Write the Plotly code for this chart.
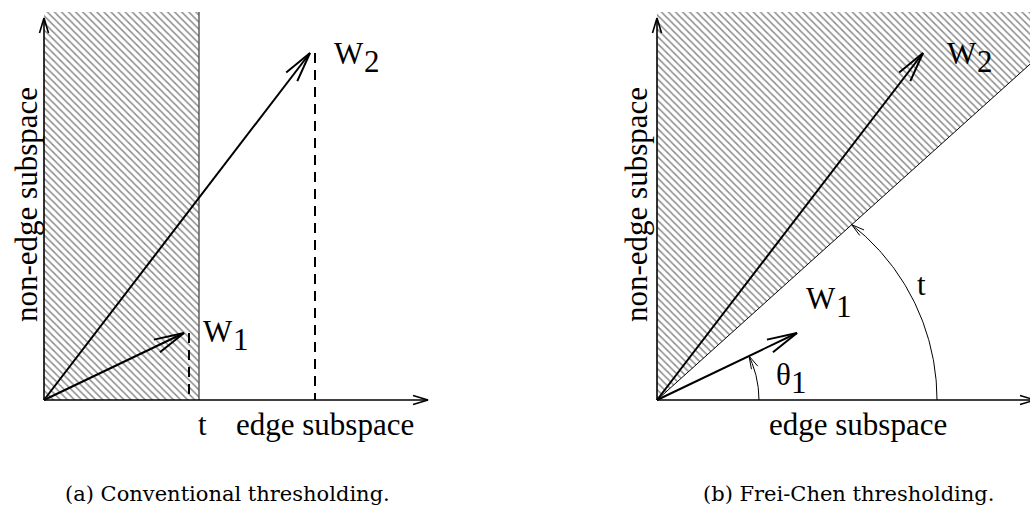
import numpy as np
import plotly.graph_objects as go

# Feature vectors in the (edge, non-edge) plane, shared by both panels
w1 = [140, 67]
w2 = [266, 347]
w_labels = ["1", "2"]
# edge-subspace projections marked by the dashed guides in panel (a)
w_proj = [145, 271]
# thresholds: magnitude along the edge axis (a), angle from the edge axis (b)
t_edge = 155
t_angle_deg = 42

axis_labels = ["edge subspace", "non-edge subspace"]
captions = ["(a) Conventional thresholding.", "(b) Frei-Chen thresholding."]

# ---- geometry of the drawing area (1 data unit == 1 px) ----
W, H = 1030, 508
ORIGIN_PX = [(44, 400), (657, 400)]
Y_TOP = 388            # top of the hatched regions
Y_AXIS_TIP = 382
X_AXIS_TIP = [384, 378]
THETA_R = 102
T_ARC_R = [280, 262]   # t arc radius on the edge axis and on the threshold line

SERIF = "Liberation Serif"
fig = go.Figure()


def axes_of(k):
    return ("x", "y") if k == 0 else ("x2", "y2")


def chevron(tip, direction, length, half):
    d = np.asarray(direction, float)
    d = d / np.hypot(*d)
    n = np.array([-d[1], d[0]])
    tip = np.asarray(tip, float)
    base = tip - length * d
    a, b = base + half * n, base - half * n
    return [a[0], tip[0], b[0], None], [a[1], tip[1], b[1], None]


def add_line(k, xs, ys, width=1.0, color="black", dash="solid"):
    xa, ya = axes_of(k)
    fig.add_trace(go.Scatter(x=xs, y=ys, mode="lines", xaxis=xa, yaxis=ya,
                             line=dict(color=color, width=width, dash=dash),
                             hoverinfo="skip", showlegend=False))


def add_arrow(k, start, tip, width, length, half):
    add_line(k, [start[0], tip[0]], [start[1], tip[1]], width)
    cx, cy = chevron(tip, np.subtract(tip, start), length, half)
    add_line(k, cx, cy, width)


def add_hatch(k, xs, ys):
    xa, ya = axes_of(k)
    fig.add_trace(go.Scatter(x=xs, y=ys, mode="lines", fill="toself", xaxis=xa, yaxis=ya,
                             line=dict(color="rgba(0,0,0,0)", width=0),
                             fillcolor="rgba(0,0,0,0)",
                             fillpattern=dict(shape="\\", size=5, solidity=0.3,
                                              fgcolor="#1a1a1a", bgcolor="rgba(0,0,0,0)"),
                             hoverinfo="skip", showlegend=False))


def add_arc(k, center, r, a0, a1, width=1.0):
    ang = np.linspace(a0, a1, 80)
    xs = center[0] + r * np.cos(ang)
    ys = center[1] + r * np.sin(ang)
    add_line(k, list(xs), list(ys), width)
    tip = (xs[-1], ys[-1])
    tangent = (-np.sin(a1), np.cos(a1))
    cx, cy = chevron(tip, tangent, 13, 3.5)
    add_line(k, cx, cy, width)


def label(k, text, x, y, size=31, angle=0, family=SERIF):
    xa, ya = axes_of(k)
    fig.add_annotation(x=x, y=y, xref=xa, yref=ya, text=text, showarrow=False,
                       textangle=angle, xanchor="center", yanchor="middle",
                       font=dict(family=family, size=size, color="black"))


def label_sub(k, base, sub, x, y, size=31):
    """Base symbol with a full-size, lowered subscript drawn beside it."""
    xa, ya = axes_of(k)
    fig.add_annotation(x=x, y=y, xref=xa, yref=ya, text=base, showarrow=False,
                       xanchor="right", yanchor="middle", borderpad=0, borderwidth=0,
                       font=dict(family=SERIF, size=size, color="black"))
    fig.add_annotation(x=x, y=y - 8, xref=xa, yref=ya, text=sub, showarrow=False,
                       xanchor="left", yanchor="middle", borderpad=0, borderwidth=0,
                       font=dict(family=SERIF, size=size, color="black"))


vectors = [w1, w2]
tan_t = np.tan(np.radians(t_angle_deg))

# ---------------- panel (a): magnitude threshold ----------------
add_hatch(0, [0, t_edge, t_edge, 0, 0], [0, 0, Y_TOP, Y_TOP, 0])
add_line(0, [t_edge, t_edge], [0, Y_TOP], 1.4, "#555555")
for p, v in zip(w_proj, vectors):
    add_line(0, [p, p], [v[1], 0], 2, dash="10px,7px")

# ---------------- panel (b): angular threshold ----------------
x_far = 400
add_hatch(1, [0, 0, x_far, x_far, 0], [0, Y_TOP, Y_TOP, x_far * tan_t, 0])
add_line(1, [0, x_far], [0, x_far * tan_t], 1.0)

# theta_1 arc, centred on the origin
theta1 = np.arctan2(w1[1], w1[0])
add_arc(1, (0, 0), THETA_R, 0, theta1)
# t arc: circle centred on the edge axis through both end points
ex = T_ARC_R[1] * np.cos(np.radians(t_angle_deg))
ey = T_ARC_R[1] * np.sin(np.radians(t_angle_deg))
c = (T_ARC_R[0] ** 2 - ex ** 2 - ey ** 2) / (2 * (T_ARC_R[0] - ex))
r_t = T_ARC_R[0] - c
add_arc(1, (c, 0), r_t, 0, np.arctan2(ey, ex - c))

# ---------------- shared: axes and vectors ----------------
for k in range(2):
    add_arrow(k, (0, 0), (X_AXIS_TIP[k], 0), 1.6, 15, 4.5)
    add_arrow(k, (0, 0), (0, Y_AXIS_TIP), 1.6, 15, 4.5)
    for v in vectors:
        add_arrow(k, (0, 0), tuple(v), 2.0, 30, 7)

    label(k, axis_labels[1], -18 if k == 0 else -21, 195, angle=-90)
    label_sub(k, "W", w_labels[1], 320, 347)

label(0, axis_labels[0], 281, -24)
label(0, "t", t_edge + 3, -24)
label_sub(0, "W", w_labels[0], 189, 69)

label(1, axis_labels[0], 201, -24)
label_sub(1, "W", w_labels[0], 179, 102)
label_sub(1, "θ", "1", 134, 26)
label(1, "t", 264, 116)

# captions
for cx_px, txt in zip([227, 848], captions):
    fig.add_annotation(x=cx_px / W, y=1 - 494 / H, xref="paper", yref="paper",
                       text=txt, showarrow=False, xanchor="center", yanchor="middle",
                       font=dict(family="DejaVu Serif", size=21, color="black"))

# axes: 1 data unit per pixel, origin placed at ORIGIN_PX
ax_common = dict(visible=False, showgrid=False, zeroline=False, fixedrange=True)
(ox0, oy0), (ox1, oy1) = ORIGIN_PX
fig.update_layout(
    width=W, height=H,
    margin=dict(l=0, r=0, t=0, b=0),
    paper_bgcolor="white", plot_bgcolor="white",
    xaxis=dict(domain=[0, 0.5], range=[-ox0, W / 2 - ox0], **ax_common),
    yaxis=dict(domain=[0, 1], range=[oy0 - H, oy0], **ax_common),
    xaxis2=dict(domain=[0.5, 1], range=[-(ox1 - W / 2), W - ox1], **ax_common),
    yaxis2=dict(domain=[0, 1], range=[oy1 - H, oy1], anchor="x2", **ax_common),
)

fig.write_html("out.html")
